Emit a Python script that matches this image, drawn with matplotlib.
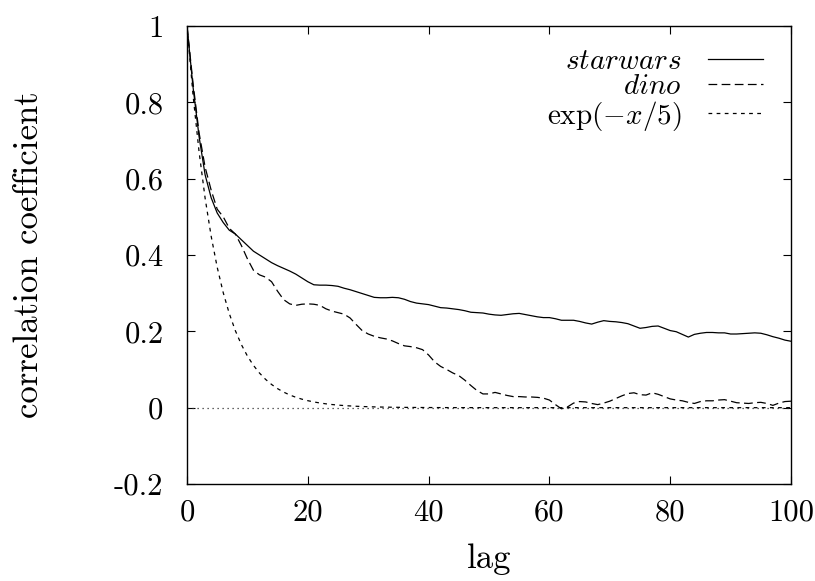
import numpy as np
import matplotlib
matplotlib.use("Agg")
import matplotlib.pyplot as plt

plt.rcParams['font.family'] = ['cmr10', 'DejaVu Serif']
plt.rcParams['mathtext.fontset'] = 'cm'
plt.rcParams['axes.unicode_minus'] = False

lags = np.arange(0, 101)

starwars = [
    1.00, 0.84, 0.71, 0.61, 0.55, 0.51, 0.485, 0.465, 0.455, 0.44,
    0.425, 0.41, 0.40, 0.39, 0.38, 0.372, 0.365, 0.358, 0.35, 0.34,
    0.33, 0.322, 0.321, 0.321, 0.32, 0.318, 0.313, 0.309, 0.304, 0.299,
    0.294, 0.289, 0.288, 0.288, 0.289, 0.288, 0.284, 0.278, 0.274, 0.272,
    0.270, 0.266, 0.262, 0.261, 0.259, 0.257, 0.254, 0.25, 0.249, 0.248,
    0.245, 0.243, 0.242, 0.244, 0.246, 0.247, 0.244, 0.241, 0.238, 0.236,
    0.236, 0.233, 0.229, 0.229, 0.229, 0.226, 0.222, 0.219, 0.224, 0.228,
    0.226, 0.225, 0.223, 0.220, 0.214, 0.208, 0.210, 0.213, 0.214, 0.208,
    0.202, 0.199, 0.192, 0.185, 0.192, 0.195, 0.197, 0.197, 0.196, 0.196,
    0.193, 0.193, 0.194, 0.195, 0.196, 0.195, 0.191, 0.186, 0.182, 0.177,
    0.174,
]

dino = [
    1.00, 0.85, 0.72, 0.63, 0.57, 0.52, 0.50, 0.47, 0.455, 0.425,
    0.39, 0.36, 0.348, 0.342, 0.33, 0.305, 0.283, 0.272, 0.268, 0.271,
    0.272, 0.271, 0.268, 0.259, 0.253, 0.249, 0.245, 0.235, 0.218, 0.202,
    0.193, 0.187, 0.183, 0.180, 0.175, 0.168, 0.162, 0.160, 0.157, 0.152,
    0.138, 0.12, 0.108, 0.100, 0.091, 0.084, 0.072, 0.058, 0.045, 0.036,
    0.036, 0.040, 0.036, 0.032, 0.029, 0.029, 0.028, 0.028, 0.027, 0.025,
    0.020, 0.008, -0.003, 0.002, 0.012, 0.016, 0.015, 0.011, 0.008, 0.012,
    0.017, 0.024, 0.031, 0.037, 0.039, 0.034, 0.033, 0.039, 0.035, 0.029,
    0.023, 0.020, 0.018, 0.014, 0.011, 0.016, 0.018, 0.018, 0.020, 0.021,
    0.017, 0.013, 0.012, 0.011, 0.013, 0.014, 0.011, 0.006, 0.012, 0.016,
    0.017,
]

# reference curve as labelled in the key, sampled like gnuplot
x_exp = np.linspace(0, 100, 101)
y_exp = np.exp(-x_exp / 5)

xticks = [0, 20, 40, 60, 80, 100]
xticklabels = ['0', '20', '40', '60', '80', '100']
yticks = [-0.2, 0, 0.2, 0.4, 0.6, 0.8, 1]
yticklabels = ['-0.2', '0', '0.2', '0.4', '0.6', '0.8', '1']

fig = plt.figure(figsize=(8.15, 5.81), dpi=100)
ax = fig.add_axes([187 / 815, 97 / 581, 604 / 815, 458 / 581])

ax.axhline(0, color='0.2', lw=0.9, ls=(0, (1, 3)))
ax.plot(lags, starwars, color='black', lw=0.9, label=r'$starwars$')
ax.plot(lags, dino, color='black', lw=0.9, ls=(0, (7, 3.5)), label=r'$dino$')
ax.plot(x_exp, y_exp, color='black', lw=0.9, ls=(0, (3, 3.5)), label=r'$\exp(-x/5)$')

ax.set_xlim(0, 100)
ax.set_ylim(-0.2, 1)
ax.set_xticks(xticks)
ax.set_xticklabels(xticklabels)
ax.set_yticks(yticks)
ax.set_yticklabels(yticklabels)
ax.tick_params(axis='both', direction='in', length=6, width=0.8,
               top=True, right=True, labelsize=22)
ax.tick_params(axis='y', pad=17)
ax.tick_params(axis='x', pad=11)
for s in ax.spines.values():
    s.set_linewidth(1.0)

ax.set_xlabel('lag', fontsize=25, labelpad=12)
ax.set_ylabel('correlation coefficient', fontsize=25, labelpad=50)

leg = ax.legend(loc='upper right', frameon=False, markerfirst=False,
                fontsize=21, handlelength=1.9, handletextpad=0.9,
                labelspacing=-0.05, borderaxespad=0.3,
                bbox_to_anchor=(0.988, 0.995))

plt.savefig('out.png', dpi=100)
